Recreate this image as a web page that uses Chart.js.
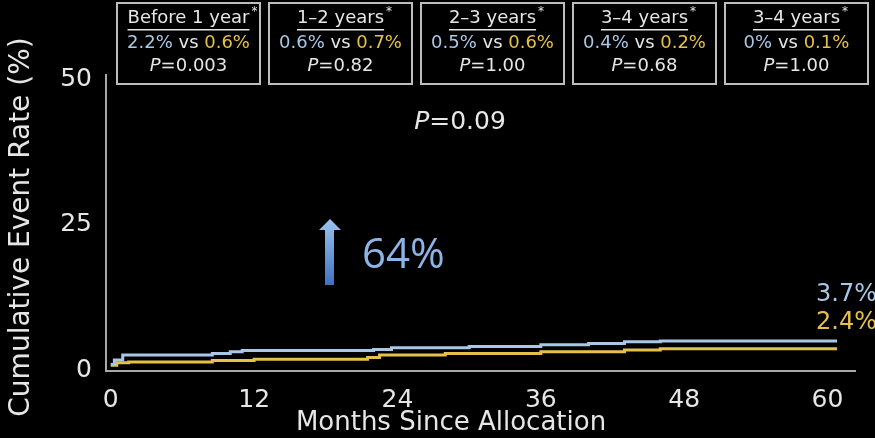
<!DOCTYPE html>
<html>
<head>
<meta charset="utf-8">
<script src="https://cdn.jsdelivr.net/npm/chart.js@4"></script>
<style>
  html, body { margin: 0; padding: 0; background: #000; }
  #wrap { width: 875px; height: 438px; position: relative; }
</style>
</head>
<body>
<div id="wrap"><canvas id="kmChart"></canvas></div>
<script>
// tick labels
const xTicks = [0, 12, 24, 36, 48, 60];
const yTicks = [0, 25, 50];

// blue curve
const blueMonths = [0, 0.3, 1, 8.5, 10, 11, 22, 23.5, 30, 36, 40, 43, 46, 60.8];
const blueRates = [0.4, 1.2, 2.05, 2.3, 2.6, 2.8, 3.0, 3.3, 3.5, 3.8, 4.0, 4.3, 4.45, 4.45];

// yellow curve
const yellowMonths = [0, 0.5, 1.5, 8.5, 12, 21.5, 22.5, 28, 36, 43, 46, 60.8];
const yellowRates = [0.3, 0.7, 0.85, 1.1, 1.3, 1.6, 2.05, 2.3, 2.6, 2.9, 3.1, 3.1];

// period boxes at the top
const periods = ["Before 1 year", "1\u20132 years", "2\u20133 years", "3\u20134 years", "3\u20134 years"];
const blueRatesText = ["2.2%", "0.6%", "0.5%", "0.4%", "0%"];
const yellowRatesText = ["0.6%", "0.7%", "0.6%", "0.2%", "0.1%"];
const pValues = ["0.003", "0.82", "1.00", "0.68", "1.00"];

const overallP = "0.09";
const increase = "64%";
const blueFinal = "3.7%";
const yellowFinal = "2.4%";

const BLUE = "#a9c7e6";
const YELLOW = "#e6c14a";
const TXT = "#e6e6e6";
const FONT = "'DejaVu Sans', sans-serif";

function toPoints(xs, ys) {
  return xs.map((x, i) => ({ x: x, y: ys[i] }));
}

function drawP(ctx, cx, y, value, size) {
  // italic P, "=" and the number, centred on cx
  ctx.font = "italic " + size + "px " + FONT;
  const wP = ctx.measureText("P").width;
  ctx.font = size + "px " + FONT;
  const rest = "=" + value;
  const wR = ctx.measureText(rest).width;
  let x = cx - (wP + wR) / 2;
  ctx.textAlign = "left";
  ctx.fillStyle = TXT;
  ctx.font = "italic " + size + "px " + FONT;
  ctx.fillText("P", x, y);
  ctx.font = size + "px " + FONT;
  ctx.fillText(rest, x + wP, y);
}

const annotations = {
  id: "annotations",
  afterDraw(chart) {
    const ctx = chart.ctx;
    ctx.save();
    ctx.textBaseline = "middle";

    // boxes
    periods.forEach((label, i) => {
      const left = 117 + i * 152;
      const w = 143;
      const cx = left + w / 2;
      ctx.strokeStyle = "#bdbdbd";
      ctx.lineWidth = 2;
      ctx.strokeRect(left, 3, w, 81);

      ctx.font = "18px " + FONT;
      ctx.fillStyle = TXT;
      ctx.textAlign = "center";
      ctx.fillText(label, cx, 18);
      const lw = ctx.measureText(label).width;
      ctx.fillRect(cx - lw / 2, 29, lw, 1.5);
      ctx.font = "12px " + FONT;
      ctx.fillText("*", cx + lw / 2 + 5, 12);

      // "a vs b"
      ctx.font = "18px " + FONT;
      const a = blueRatesText[i], b = yellowRatesText[i], vs = " vs ";
      const wa = ctx.measureText(a).width, wv = ctx.measureText(vs).width, wb = ctx.measureText(b).width;
      let x = cx - (wa + wv + wb) / 2;
      ctx.textAlign = "left";
      ctx.fillStyle = BLUE; ctx.fillText(a, x, 43);
      ctx.fillStyle = TXT; ctx.fillText(vs, x + wa, 43);
      ctx.fillStyle = YELLOW; ctx.fillText(b, x + wa + wv, 43);

      drawP(ctx, cx, 66, pValues[i], 18);
    });

    drawP(ctx, 460, 122, overallP, 25);

    // arrow
    const grad = ctx.createLinearGradient(0, 220, 0, 285);
    grad.addColorStop(0, "#9cc2ee");
    grad.addColorStop(1, "#3c72c0");
    ctx.fillStyle = grad;
    ctx.beginPath();
    ctx.moveTo(330, 219);
    ctx.lineTo(341, 230);
    ctx.lineTo(334, 230);
    ctx.lineTo(334, 285);
    ctx.lineTo(325, 285);
    ctx.lineTo(325, 230);
    ctx.lineTo(319, 230);
    ctx.closePath();
    ctx.fill();

    ctx.textAlign = "left";
    ctx.fillStyle = "#8db4e6";
    ctx.font = "42px 'Open Sans', sans-serif";
    ctx.fillText(increase, 362, 256);

    ctx.font = "24px " + FONT;
    ctx.textAlign = "right";
    ctx.fillStyle = BLUE;
    ctx.fillText(blueFinal, 877, 295);
    ctx.fillStyle = YELLOW;
    ctx.fillText(yellowFinal, 877, 323);

    // axis titles
    ctx.fillStyle = TXT;
    ctx.textAlign = "center";
    ctx.font = "26px " + FONT;
    ctx.fillText("Months Since Allocation", 451, 423);
    ctx.save();
    ctx.translate(22, 227);
    ctx.rotate(-Math.PI / 2);
    ctx.font = "28px " + FONT;
    ctx.fillText("Cumulative Event Rate (%)", 0, 0);
    ctx.restore();

    ctx.restore();
  }
};

new Chart(document.getElementById("kmChart"), {
  type: "line",
  data: {
    datasets: [
      {
        label: "Blue",
        data: toPoints(blueMonths, blueRates),
        borderColor: BLUE,
        borderWidth: 3,
        stepped: true,
        pointRadius: 0,
        fill: false
      },
      {
        label: "Yellow",
        data: toPoints(yellowMonths, yellowRates),
        borderColor: YELLOW,
        borderWidth: 3,
        stepped: true,
        pointRadius: 0,
        fill: false
      }
    ]
  },
  options: {
    responsive: true,
    maintainAspectRatio: false,
    animation: false,
    layout: { padding: { left: 0, right: 20, top: 75, bottom: 0 } },
    plugins: { legend: { display: false }, tooltip: { enabled: false } },
    scales: {
      x: {
        type: "linear",
        min: -0.4,
        max: 62.3,
        afterBuildTicks: s => { s.ticks = xTicks.map(v => ({ value: v })); },
        afterFit: s => { s.height = 67; },
        grid: { display: false, drawTicks: true, tickLength: 6, tickColor: "#a8a8a8", drawOnChartArea: false },
        border: { color: "#a8a8a8", width: 2 },
        ticks: { color: TXT, font: { family: FONT, size: 25 }, padding: 8, maxRotation: 0 }
      },
      y: {
        type: "linear",
        min: -0.7,
        max: 50,
        afterBuildTicks: s => { s.ticks = yTicks.map(v => ({ value: v })); },
        afterFit: s => { s.width = 106; },
        grid: { display: false, drawTicks: true, tickLength: 8, tickColor: "#a8a8a8", drawOnChartArea: false },
        border: { color: "#a8a8a8", width: 2 },
        ticks: { color: TXT, font: { family: FONT, size: 25 }, padding: 6, labelOffset: 4 }
      }
    }
  },
  plugins: [annotations]
});
</script>
</body>
</html>
